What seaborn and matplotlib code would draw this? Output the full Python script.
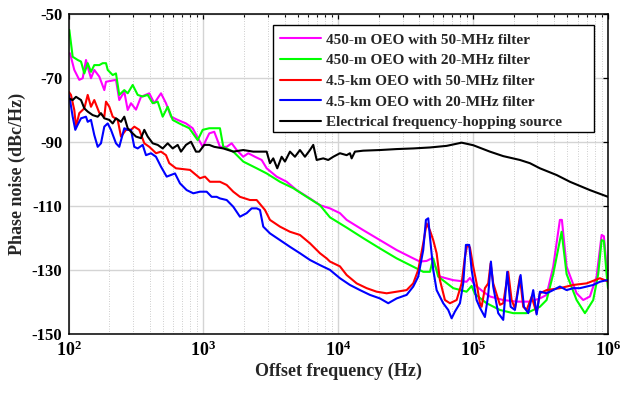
import numpy as np
import pandas as pd
import matplotlib
matplotlib.use("Agg")
import matplotlib.pyplot as plt
from matplotlib.patches import Rectangle
import seaborn as sns

# ---------------- data ----------------
series_names = [
    "450-m OEO with 50-MHz filter",
    "450-m OEO with 20-MHz filter",
    "4.5-km OEO with 50-MHz filter",
    "4.5-km OEO with 20-MHz filter",
    "Electrical frequency-hopping source",
]
series_colors = ["#FF00FF", "#00FF00", "#FF0000", "#0000FF", "#000000"]

mag_f = [102.6, 110.4, 120.2, 127.4, 134.8, 138.8, 146.8, 155.3, 169.2, 184.3, 189.7, 224.9,
         237.9, 259.2, 274.7, 290.6, 316.5, 344.7, 397.2, 432.5, 485.0, 528.3, 575.4, 645.0,
         743.0, 833.2, 988.1, 1106, 1204, 1327, 1489, 1621, 1766, 1976, 2153, 2413, 2705,
         2946, 3494, 4146, 4917, 6169, 7316, 8679, 10295, 11544, 15324, 20375, 27100, 35970,
         40330, 45220, 49250, 56750, 71220, 89460, 94700, 103100, 118800, 133200, 167200,
         210200, 263600, 312700, 350600, 392500, 439900, 455200, 493200, 585200, 655000,
         734100, 823000, 896800, 932500, 976300, 1000000]
mag_db = [-62.4, -67.6, -70.7, -70.2, -64.5, -66.6, -70.2, -67.6, -69.7, -73.9, -71.3, -70.7,
          -77.0, -74.4, -80.1, -78.0, -80.0, -76.0, -74.9, -78.0, -74.9, -78.0, -82.2, -83.2,
          -84.3, -85.8, -91.6, -87.4, -86.9, -91.6, -91.6, -90.5, -92.6, -94.7, -93.6, -94.7,
          -95.7, -98.3, -100.9, -102.5, -105.1, -107.7, -109.8, -110.8, -112.3, -114.4, -117.6,
          -120.7, -123.8, -126.4, -127.4, -127.2, -126.4, -132.1, -133.2, -133.7, -132.5,
          -134.7, -136.8, -138.3, -139.4, -139.9, -139.9, -138.9, -137.8, -129.0, -114.4,
          -114.4, -129.0, -137.3, -139.4, -138.3, -132.1, -119.1, -119.5, -129.0, -133.0]

grn_f = [101.4, 107.4, 117.0, 123.8, 131.0, 138.8, 146.8, 155.3, 169.2, 179.3, 189.7, 195.3,
         212.7, 224.9, 237.9, 259.2, 274.7, 299.2, 325.8, 354.8, 386.5, 421.0, 458.5, 499.4,
         543.8, 592.2, 662.6, 786.4, 907.2, 988.1, 1106, 1184, 1327, 1405, 1666, 1976, 2484,
         2946, 3697, 4639, 5831, 7316, 8679, 11544, 15324, 20375, 27100, 35970, 42670, 47840,
         50610, 55110, 71220, 89460, 97470, 103100, 125900, 158000, 198300, 249300, 312700,
         350600, 392500, 452900, 493200, 585200, 674500, 777000, 846000, 896800, 932500,
         976300, 1000000]
grn_db = [-55.1, -63.5, -64.5, -65.0, -68.7, -65.5, -68.2, -66.1, -66.1, -65.5, -65.5, -67.6,
          -69.2, -68.7, -75.4, -73.9, -74.9, -72.3, -75.4, -75.9, -75.4, -78.0, -77.5, -82.2,
          -79.1, -83.2, -84.3, -85.8, -89.5, -86.3, -85.8, -85.8, -85.8, -91.6, -93.1, -96.2,
          -98.3, -99.9, -102.5, -104.5, -107.2, -109.8, -113.6, -116.8, -120.1, -123.3, -126.4,
          -129.0, -130.6, -130.6, -126.4, -132.1, -135.7, -136.8, -135.0, -137.5, -140.4,
          -142.5, -143.5, -143.5, -141.5, -139.4, -131.3, -118.1, -131.3, -139.4, -143.5,
          -139.4, -131.3, -120.7, -121.0, -131.3, -135.7]

red_f = [100.3, 104.3, 110.4, 113.7, 120.2, 131.0, 138.8, 146.8, 155.3, 169.2, 184.3, 189.7,
         200.7, 212.7, 231.6, 245.0, 266.9, 290.6, 307.4, 334.8, 364.7, 397.2, 421.0, 445.4,
         485.0, 528.3, 558.6, 626.4, 795.8, 943.6, 1028, 1119, 1327, 1489, 1666, 1867, 2215,
         2484, 2862, 3116, 3697, 4385, 5202, 6169, 7316, 8204, 8679, 10295, 11544, 13690,
         16240, 19260, 22850, 27100, 32140, 35970, 39170, 42670, 45220, 47840, 50610, 53630,
         56750, 61800, 67300, 75470, 82190, 86960, 90430, 94700, 100200, 106100, 112300,
         115600, 122300, 129400, 134800, 140900, 158000, 167200, 182000, 192900, 204100,
         222300, 235200, 249300, 271500, 295700, 312700, 350600, 439900, 552100, 694100,
         871000, 1000000]
red_db = [-74.4, -75.4, -80.1, -85.3, -81.1, -79.6, -75.4, -79.1, -77.0, -81.0, -82.2, -77.5,
          -79.1, -82.2, -83.2, -88.4, -86.3, -86.3, -85.3, -86.3, -90.5, -91.6, -92.6, -93.6,
          -93.1, -94.2, -96.7, -98.3, -98.8, -101.4, -100.9, -102.5, -102.5, -103.5, -105.6,
          -107.2, -108.2, -108.2, -111.3, -114.4, -116.5, -118.1, -119.1, -121.7, -124.8,
          -126.4, -127.4, -128.9, -131.6, -134.2, -135.7, -136.8, -137.3, -136.8, -136.3,
          -134.2, -130.0, -121.7, -115.5, -117.7, -120.7, -124.8, -133.2, -139.4, -140.4,
          -139.4, -134.2, -125.9, -122.2, -123.0, -129.0, -134.2, -140.4, -141.5, -135.7,
          -134.2, -128.0, -134.2, -140.9, -140.4, -130.6, -139.4, -142.0, -132.1, -141.5,
          -142.5, -138.4, -143.5, -137.3, -136.3, -135.7, -134.7, -134.2, -132.6, -133.6]

blu_f = [100.3, 102.6, 107.4, 112.3, 117.0, 123.8, 134.8, 138.8, 146.8, 155.3, 164.6, 174.1,
         184.3, 195.3, 206.5, 224.9, 237.9, 259.2, 274.7, 290.6, 307.4, 325.8, 354.8, 375.4,
         408.9, 445.4, 485.0, 534.5, 616.1, 670.8, 752.0, 841.8, 943.6, 1058, 1152, 1255,
         1327, 1489, 1666, 1867, 2094, 2280, 2484, 2628, 2780, 3116, 3697, 4385, 5202, 6169,
         7316, 8679, 10295, 12210, 14490, 17180, 20375, 23480, 27100, 32140, 35970, 39170,
         42670, 44680, 46480, 47840, 50610, 53630, 60020, 65390, 69280, 73300, 79850, 84460,
         88440, 93570, 97470, 103100, 106100, 112300, 122300, 129400, 135500, 140900, 153500,
         167200, 179000, 189700, 204100, 224900, 238100, 256200, 279000, 295700, 312700,
         350600, 392500, 439900, 493200, 552100, 619100, 694100, 777000, 871000, 976300,
         1000000]
blu_db = [-75.4, -77.0, -82.2, -86.3, -84.7, -82.7, -82.2, -83.8, -83.2, -87.9, -91.6, -90.5,
          -85.3, -84.3, -86.3, -90.5, -91.6, -85.8, -86.3, -86.3, -91.6, -92.1, -91.0, -94.2,
          -93.6, -94.7, -97.8, -100.9, -99.9, -103.0, -105.1, -106.1, -105.6, -105.6, -107.2,
          -107.2, -107.7, -108.2, -110.3, -113.4, -112.3, -110.8, -110.8, -111.3, -116.5,
          -118.6, -120.7, -122.8, -124.8, -126.9, -128.5, -130.0, -132.6, -134.7, -136.3,
          -137.8, -138.9, -140.4, -138.9, -137.8, -135.2, -132.1, -123.8, -114.4, -113.9,
          -119.7, -130.0, -136.3, -140.4, -142.5, -145.1, -143.0, -140.4, -134.2, -122.2,
          -122.2, -130.0, -136.3, -139.4, -141.8, -144.7, -137.8, -127.4, -135.2, -143.5,
          -145.6, -130.6, -141.5, -142.5, -131.6, -141.5, -143.5, -136.3, -143.9, -136.8,
          -137.3, -136.3, -135.2, -136.3, -135.7, -135.7, -135.2, -134.7, -133.7, -133.2,
          -133.4]

blk_f = [100.3, 107.4, 113.7, 123.8, 131.0, 138.8, 151.1, 164.6, 174.1, 184.3, 200.7, 212.7,
         224.9, 245.0, 259.2, 274.7, 290.6, 316.5, 344.7, 364.7, 386.5, 421.0, 458.5, 499.4,
         543.8, 592.2, 645.0, 682.3, 743.0, 809.3, 881.3, 932.4, 1016, 1106, 1204, 1405, 1666,
         1976, 2344, 2705, 2946, 3116, 3297, 3530, 3805, 4026, 4385, 4775, 5202, 5664, 6169,
         6527, 6918, 7742, 8432, 9182, 10295, 11544, 12210, 12570, 13300, 15324, 20375, 27100,
         35970, 47840, 63640, 82190, 100200, 133200, 167200, 222300, 263600, 312700, 416000,
         522000, 734100, 1000000]
blk_db = [-76.5, -77.0, -76.0, -77.0, -79.6, -80.6, -81.7, -82.2, -81.1, -82.7, -83.2, -84.3,
          -82.7, -83.8, -82.2, -85.8, -86.9, -88.4, -88.9, -86.3, -88.4, -90.5, -91.0, -92.1,
          -90.5, -92.1, -91.0, -93.1, -91.0, -90.0, -93.1, -93.1, -91.0, -91.0, -91.6, -92.1,
          -93.1, -92.6, -93.1, -93.1, -93.1, -96.7, -95.2, -98.3, -94.7, -96.2, -93.1, -94.7,
          -92.6, -94.7, -92.6, -91.0, -95.7, -95.2, -95.7, -94.7, -93.6, -94.2, -93.6, -95.2,
          -93.1, -92.8, -92.6, -92.3, -92.1, -91.8, -91.3, -90.3, -91.1, -93.1, -94.5, -95.7,
          -96.7, -98.3, -100.4, -102.5, -105.1, -107.2]

x_ticks = [1e2, 1e3, 1e4, 1e5, 1e6]
x_tick_labels = [r"$\mathbf{10^{2}}$", r"$\mathbf{10^{3}}$", r"$\mathbf{10^{4}}$",
                 r"$\mathbf{10^{5}}$", r"$\mathbf{10^{6}}$"]
y_ticks = [-150, -130, -110, -90, -70, -50]
x_label = "Offset frequency (Hz)"
y_label = "Phase noise (dBc/Hz)"

# ---------------- build table ----------------
freqs = [mag_f, grn_f, red_f, blu_f, blk_f]
vals = [mag_db, grn_db, red_db, blu_db, blk_db]
frames = []
for name, f, v in zip(series_names, freqs, vals):
    frames.append(pd.DataFrame({"freq": f, "pn": v, "series": name}))
df = pd.concat(frames, ignore_index=True)

# ---------------- style ----------------
sns.set_style("white")
plt.rcParams["font.family"] = ["Liberation Serif", "DejaVu Serif"]
plt.rcParams["font.weight"] = "bold"
plt.rcParams["mathtext.fontset"] = "custom"
plt.rcParams["mathtext.rm"] = "Liberation Serif:bold"
plt.rcParams["mathtext.bf"] = "Liberation Serif:bold"
plt.rcParams["mathtext.it"] = "Liberation Serif:bold"

W, H = 620, 393
fig = plt.figure(figsize=(W / 100, H / 100), dpi=100)
ax = fig.add_axes([68.5 / W, 1 - 334 / H, (608 - 68.5) / W, (334 - 13.5) / H])

sns.lineplot(data=df, x="freq", y="pn", hue="series", hue_order=series_names,
             palette=series_colors, estimator=None, sort=False, linewidth=1.5,
             ax=ax, legend=False)

ax.set_xscale("log")
ax.set_xlim(1e2, 1e6)
ax.set_ylim(-150, -50)
ax.set_xticks(x_ticks)
ax.set_xticklabels(x_tick_labels)
ax.set_yticks(y_ticks)
ax.set_yticklabels([str(t) for t in y_ticks])

ax.grid(True, which="major", color="#d4d4d4", linewidth=1.0, linestyle="-")
ax.grid(True, which="minor", axis="x", color="#bdbdbd", linewidth=0.6, linestyle=(0, (1, 2)))
ax.set_axisbelow(True)

for s in ax.spines.values():
    s.set_visible(True)
    s.set_color("black")
    s.set_linewidth(1.1)

ax.tick_params(axis="both", which="both", direction="in", top=True, right=True,
               colors="black")
ax.tick_params(axis="y", which="major", labelsize=12)
ax.tick_params(axis="x", which="major", labelsize=13)
ax.tick_params(axis="both", which="major", length=3.5, width=0.9, pad=4.5)
ax.tick_params(axis="x", which="minor", length=2.2, width=0.8)
for lab in ax.get_yticklabels():
    lab.set_fontweight("bold")

ax.set_xlabel(x_label, fontsize=13, fontweight="bold", labelpad=2)
ax.set_ylabel(y_label, fontsize=13, fontweight="bold", labelpad=4)

# legend box (MATLAB-style, with extra room on the right)
box = Rectangle((273 / W, 1 - 132 / H), (594 - 273) / W, (132 - 25) / H,
                transform=fig.transFigure, facecolor="white", edgecolor="black",
                linewidth=1.0, zorder=4)
ax.add_patch(box)

handles = [plt.Line2D([], [], color=c, linewidth=1.5) for c in series_colors]
leg = ax.legend(handles, series_names, loc="upper left",
                bbox_to_anchor=(273 / W, 1 - 26 / H), bbox_transform=fig.transFigure,
                frameon=False, fontsize=11, handlelength=2.7, handletextpad=0.3,
                labelspacing=0.46, borderpad=0.45, borderaxespad=0)
leg.set_zorder(5)
for t in leg.get_texts():
    t.set_fontweight("bold")

fig.savefig("out.png", dpi=100)
